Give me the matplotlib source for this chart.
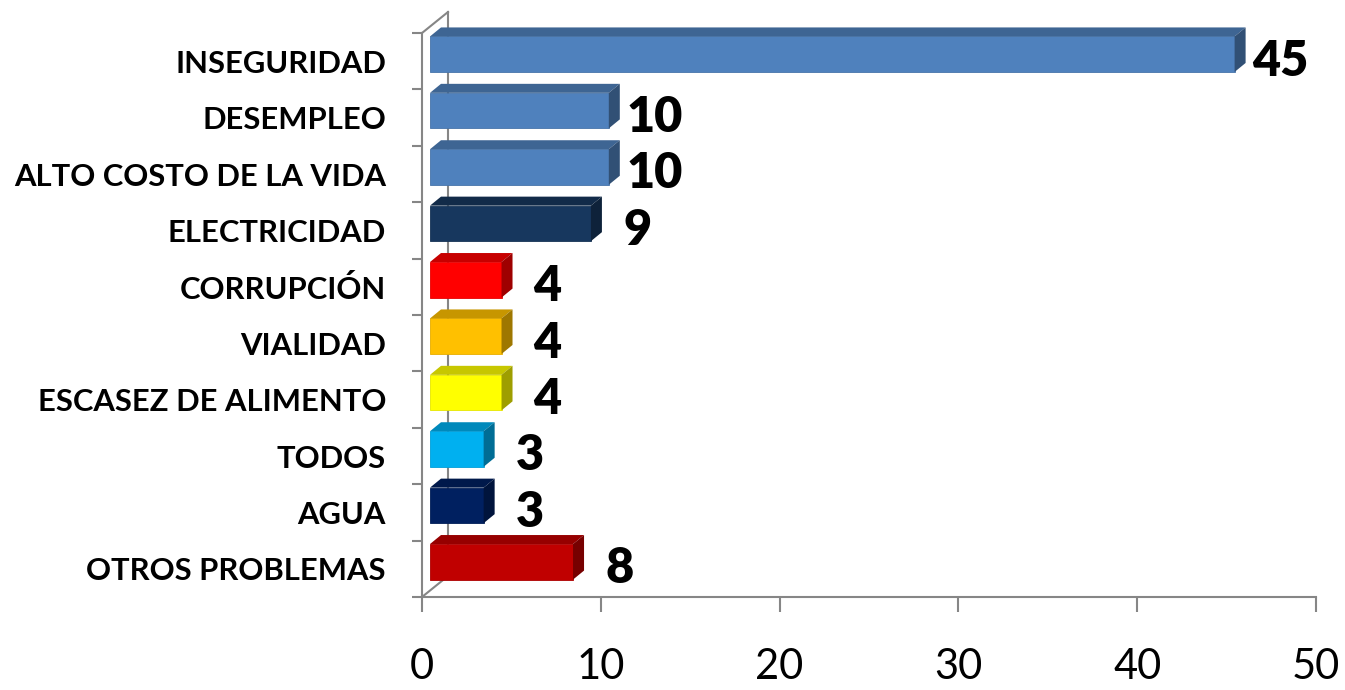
import numpy as np
import matplotlib
matplotlib.use('Agg')
import matplotlib.pyplot as plt
from matplotlib.patches import Polygon

plt.rcParams['font.family'] = ['Lato', 'DejaVu Sans']

categories = ['INSEGURIDAD', 'DESEMPLEO', 'ALTO COSTO DE LA VIDA', 'ELECTRICIDAD',
              'CORRUPCIÓN', 'VIALIDAD', 'ESCASEZ DE ALIMENTO', 'TODOS', 'AGUA',
              'OTROS PROBLEMAS']
values = [45, 10, 10, 9, 4, 4, 4, 3, 3, 8]
colors = ['#4F81BD', '#4F81BD', '#4F81BD', '#17375E', '#FF0000',
          '#FFC000', '#FFFF00', '#00B0F0', '#002060', '#C00000']
xticks = [0, 10, 20, 30, 40, 50]

W, H = 1345, 690
fig = plt.figure(figsize=(W / 100, H / 100), dpi=100)
# axes box in pixels: left 422, right 1316, top 33, bottom 597
ax = fig.add_axes([422 / W, 93 / H, 894 / W, 564 / H])
ax.set_xlim(0, 50)
ax.set_ylim(len(categories) - 0.5, -0.5)

# pixel -> data units
ux = 50 / 894
uy = len(categories) / 564

grey = '#868686'


def shade(c, f):
    rgb = np.array(matplotlib.colors.to_rgb(c))
    return tuple(rgb * f)


# back wall line and the two depth diagonals
bx, by = 26 * ux, 21 * uy
ax.plot([bx, bx], [9.5 - by, -0.5 - by], color=grey, lw=1.5, zorder=0, clip_on=False)
ax.plot([0, bx], [-0.5, -0.5 - by], color=grey, lw=1.5, zorder=0, clip_on=False)
ax.plot([0, bx], [9.5, 9.5 - by], color=grey, lw=1.5, zorder=0, clip_on=False)

# 3d-ish bars
h = 0.63
x0 = 8 * ux
dx, dy = 11 * ux, 9 * uy
for i, (v, c) in enumerate(zip(values, colors)):
    yc = i - 7 * uy
    yt = yc - h / 2
    yb = yc + h / 2
    ax.barh(yc, v, left=x0, height=h, color=c, edgecolor=shade(c, 0.9),
            linewidth=0.6, zorder=3)
    top = Polygon([(x0, yt), (x0 + v, yt), (x0 + v + dx, yt - dy), (x0 + dx, yt - dy)],
                  closed=True, facecolor=shade(c, 0.78), edgecolor='none', zorder=3,
                  clip_on=False)
    side = Polygon([(x0 + v, yb), (x0 + v, yt), (x0 + v + dx, yt - dy), (x0 + v + dx, yb - dy)],
                   closed=True, facecolor=shade(c, 0.62), edgecolor='none', zorder=3,
                   clip_on=False)
    ax.add_patch(top)
    ax.add_patch(side)
    ax.annotate(str(v), xy=(v, i), xytext=(39, 0), textcoords='offset points',
                ha='center', va='center', fontsize=35, fontweight='heavy', color='black',
                annotation_clip=False)

for s in ['top', 'right']:
    ax.spines[s].set_visible(False)
for s in ['left', 'bottom']:
    ax.spines[s].set_color(grey)
    ax.spines[s].set_linewidth(1.5)

ax.set_xticks(xticks)
ax.set_xticklabels([str(t) for t in xticks], fontsize=30)
ax.tick_params(axis='x', direction='out', length=11, width=1.5, color=grey, pad=26)

ax.set_yticks(range(len(categories)))
ax.set_yticklabels(categories, fontsize=22.3, fontweight='bold')
ax.set_yticks(np.arange(-0.5, len(categories)), minor=True)
ax.tick_params(axis='y', which='major', length=0, pad=26)
ax.tick_params(axis='y', which='minor', direction='out', length=7, width=1.5, color=grey)

fig.savefig('out.png', dpi=100)
